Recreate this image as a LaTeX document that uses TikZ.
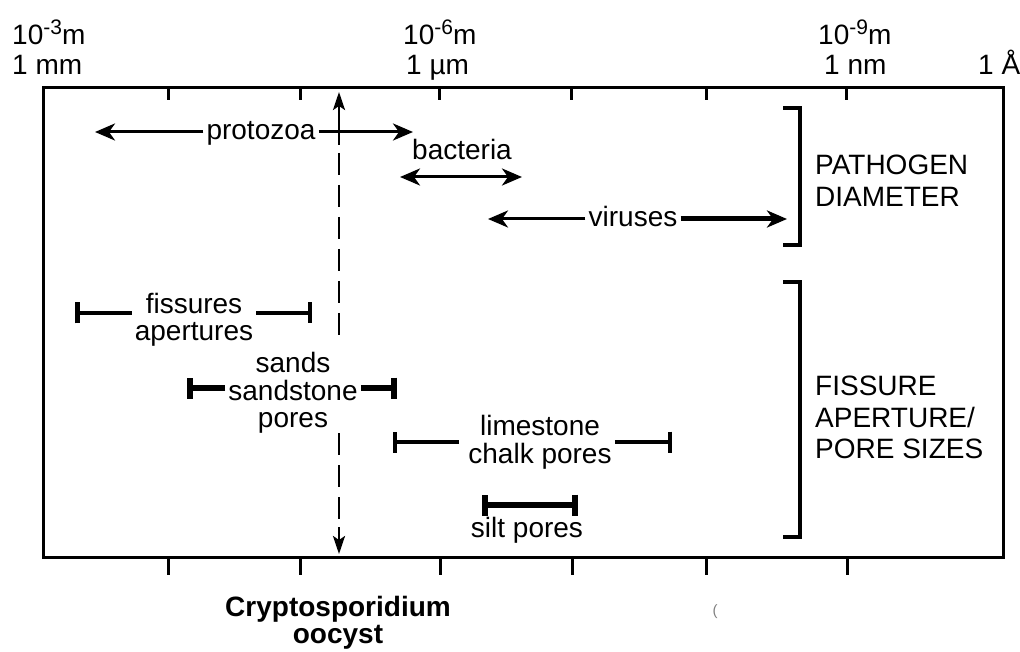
\documentclass[tikz,border=0pt]{standalone}
\usepackage{fontspec}
\setmainfont{Liberation Sans}
\usetikzlibrary{arrows.meta}
\newcommand{\expo}[1]{\raisebox{10pt}{\fontsize{21}{21}\selectfont #1}}
\begin{document}
\begin{tikzpicture}[x=1pt,y=-1pt,
  lbl/.style={font=\fontsize{28}{32}\selectfont, inner sep=3pt, anchor=base},
  hdr/.style={font=\fontsize{28}{32}\selectfont, inner sep=0pt, anchor=base west},
  boldlbl/.style={font=\fontsize{28}{32}\selectfont\bfseries, inner sep=0pt, anchor=base},
  frame/.style={line width=3pt},
  tickmark/.style={line width=3pt},
  arr/.style={line width=3pt, -{Stealth[length=20pt,width=17pt,inset=6pt]}},
  arrthick/.style={line width=5pt, -{Stealth[length=20pt,width=17pt,inset=6pt]}},
  arrboth/.style={line width=3pt, {Stealth[length=20pt,width=17pt,inset=6pt]}-{Stealth[length=20pt,width=17pt,inset=6pt]}},
  vline/.style={line width=2.5pt, -{Stealth[length=18pt,width=12pt,inset=4pt]}},
  dashline/.style={line width=2.5pt, dash pattern=on 22pt off 10pt},
  barend/.style={line width=#1, -{Bar[width=21pt,line width=#1]}},
  barboth/.style={line width=#1, {Bar[width=21pt,line width=#1]}-{Bar[width=21pt,line width=#1]}},
  brk/.style={line width=4.5pt}
]
\useasboundingbox (0,0) rectangle (1020,652);

% frame and ticks
\draw[frame] (43,88) rectangle (1003,557);
\foreach \x in {168,300,439,571,706,846} \draw[tickmark] (\x,88) -- (\x,100);
\foreach \x in {168,300,440,572,706,847} \draw[tickmark] (\x,557) -- (\x,575);

% scale labels
\node[hdr] (t3a) at (12,45) {10\expo{-3}m};
\node[hdr] (t3b) at (12,75) {1 mm};
\node[hdr] (t6a) at (403,45) {10\expo{-6}m};
\node[hdr] (t6b) at (406,75) {1 µm};
\node[hdr] (t9a) at (818,45) {10\expo{-9}m};
\node[hdr] (t9b) at (824,75) {1 nm};
\node[hdr] (tA) at (978,75) {1 Å};

% Cryptosporidium dashed line
\coordinate (cTop) at (339,92);
\coordinate (cT1) at (339,145);
\coordinate (cT2) at (339,153);
\coordinate (cT3) at (339,340);
\coordinate (cB1) at (339,433);
\coordinate (cB2) at (339,520);
\coordinate (cB3) at (339,527);
\coordinate (cBot) at (339,554);
\draw[vline] (cT1) -- (cTop);
\draw[dashline] (cT2) -- (cT3);
\draw[dashline] (cB1) -- (cB2);
\draw[vline] (cB3) -- (cBot);

% pathogens
\node[lbl] (proto) at (261,140) {protozoa};
\coordinate (pL) at (95,132);
\coordinate (pR) at (413,132);
\draw[arr] (proto.west |- pL) -- (pL);
\draw[arr] (proto.east |- pR) -- (pR);

\node[lbl] (bact) at (462,160) {bacteria};
\coordinate (bL) at (400,177);
\coordinate (bR) at (522,177);
\draw[arrboth] (bL) -- (bR);

\node[lbl] (vir) at (633,227) {viruses};
\coordinate (vL) at (488,219);
\coordinate (vR) at (787,219);
\draw[arr] (vir.west |- vL) -- (vL);
\draw[arrthick] (vir.east |- vR) -- (vR);

% fissures / pores
\node[lbl] (fis1) at (194,313) {fissures};
\node[lbl] (fis2) at (194,340) {apertures};
\coordinate (fL) at (75,313);
\coordinate (fR) at (312,313);
\draw[barend=4.5pt] (fis2.west |- fL) -- (fL);
\draw[barend=4.5pt] (fis2.east |- fR) -- (fR);

\node[lbl] (s1) at (293,372) {sands};
\node[lbl] (s2) at (293,400) {sandstone};
\node[lbl] (s3) at (293,427) {pores};
\coordinate (sL) at (187,388);
\coordinate (sR) at (397,388);
\draw[barend=6pt] (s2.west |- sL) -- (sL);
\draw[barend=6pt] (s2.east |- sR) -- (sR);

\node[lbl] (l1) at (540,435) {limestone};
\node[lbl] (l2) at (540,463) {chalk pores};
\coordinate (lL) at (393,442);
\coordinate (lR) at (672,442);
\draw[barend=4pt] ([xshift=-6pt]l2.west |- lL) -- (lL);
\draw[barend=4pt] (l2.east |- lR) -- (lR);

\coordinate (siL) at (482,505);
\coordinate (siR) at (578,505);
\draw[barboth=6pt] (siL) -- (siR);
\node[lbl] (silt) at (527,537) {silt pores};

% brackets
\draw[brk] (783,108) -- (800,108) -- (800,245) -- (783,245);
\draw[brk] (783,282) -- (800,282) -- (800,537) -- (783,537);
\node[hdr] (pa1) at (815,175) {PATHOGEN};
\node[hdr] (pa2) at (815,207) {DIAMETER};
\node[hdr] (fs1) at (815,395) {FISSURE};
\node[hdr] (fs2) at (815,427) {APERTURE/};
\node[hdr] (fs3) at (815,458) {PORE SIZES};

% bottom labels
\node[boldlbl] (cr1) at (338,616) {Cryptosporidium};
\node[boldlbl] (cr2) at (338,643) {oocyst};
\node[font=\fontsize{15}{16}\selectfont, text=gray, inner sep=0pt, anchor=base] (paren) at (715,615) {(};
\end{tikzpicture}
\end{document}
